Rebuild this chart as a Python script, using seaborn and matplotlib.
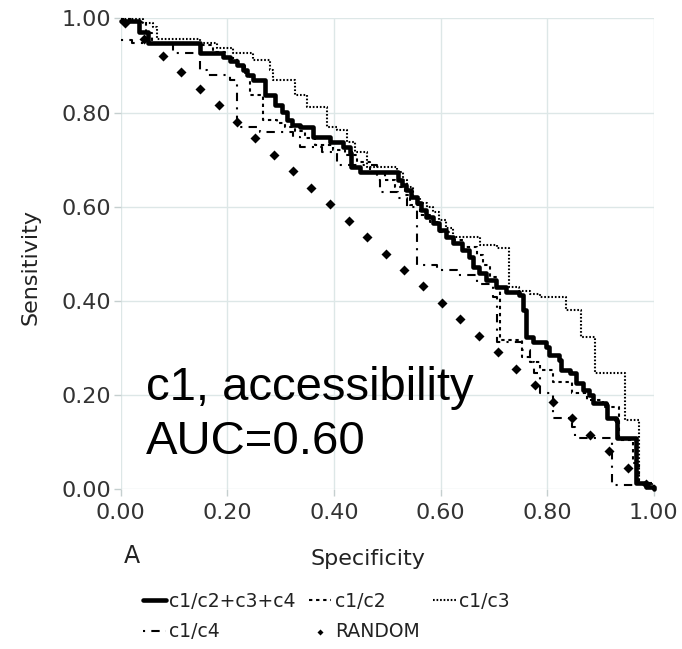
import matplotlib
matplotlib.use("Agg")
import matplotlib.pyplot as plt
import seaborn as sns

# ROC-style step curves (specificity, sensitivity)
spec_all = [0.000, 0.035, 0.051, 0.149, 0.192, 0.205, 0.218, 0.229, 0.237, 0.248,
            0.271, 0.289, 0.302, 0.312, 0.321, 0.336, 0.360, 0.392, 0.417, 0.430,
            0.433, 0.449, 0.520, 0.527, 0.536, 0.545, 0.555, 0.564, 0.573, 0.586,
            0.598, 0.611, 0.623, 0.641, 0.654, 0.661, 0.673, 0.686, 0.704, 0.723,
            0.748, 0.754, 0.761, 0.773, 0.798, 0.804, 0.823, 0.826, 0.842, 0.854,
            0.867, 0.879, 0.885, 0.911, 0.913, 0.929, 0.930, 0.967, 0.985, 1.000]
sens_all = [0.995, 0.971, 0.947, 0.926, 0.918, 0.910, 0.901, 0.891, 0.880, 0.869,
            0.838, 0.816, 0.801, 0.784, 0.774, 0.770, 0.748, 0.738, 0.727, 0.714,
            0.685, 0.675, 0.657, 0.646, 0.636, 0.621, 0.608, 0.593, 0.579, 0.566,
            0.551, 0.536, 0.523, 0.508, 0.494, 0.472, 0.460, 0.445, 0.430, 0.419,
            0.413, 0.381, 0.324, 0.313, 0.303, 0.286, 0.275, 0.254, 0.247, 0.226,
            0.212, 0.201, 0.184, 0.179, 0.152, 0.148, 0.109, 0.014, 0.005, 0.000]

spec_c2 = [0.000, 0.023, 0.048, 0.059, 0.145, 0.173, 0.196, 0.218, 0.233, 0.243,
           0.267, 0.293, 0.308, 0.327, 0.345, 0.364, 0.398, 0.420, 0.443, 0.467,
           0.495, 0.514, 0.533, 0.542, 0.561, 0.580, 0.598, 0.617, 0.642, 0.668,
           0.679, 0.692, 0.705, 0.711, 0.752, 0.767, 0.786, 0.810, 0.847, 0.874,
           0.904, 0.935, 0.960, 0.973, 1.000]
sens_c2 = [0.999, 0.993, 0.969, 0.948, 0.944, 0.929, 0.916, 0.899, 0.884, 0.838,
           0.784, 0.778, 0.770, 0.761, 0.746, 0.731, 0.721, 0.710, 0.695, 0.672,
           0.657, 0.642, 0.625, 0.604, 0.583, 0.568, 0.547, 0.530, 0.515, 0.498,
           0.477, 0.451, 0.430, 0.317, 0.281, 0.271, 0.254, 0.228, 0.205, 0.190,
           0.175, 0.105, 0.056, 0.014, 0.000]

spec_c3 = [0.000, 0.042, 0.061, 0.068, 0.149, 0.181, 0.211, 0.248, 0.280, 0.286,
           0.327, 0.349, 0.387, 0.405, 0.424, 0.439, 0.462, 0.518, 0.529, 0.538,
           0.548, 0.561, 0.574, 0.585, 0.598, 0.611, 0.623, 0.674, 0.705, 0.729,
           0.748, 0.767, 0.786, 0.836, 0.864, 0.889, 0.945, 0.973, 0.997]
sens_c3 = [0.999, 0.990, 0.982, 0.957, 0.948, 0.937, 0.927, 0.912, 0.891, 0.869,
           0.838, 0.812, 0.770, 0.764, 0.738, 0.717, 0.685, 0.674, 0.657, 0.642,
           0.621, 0.608, 0.600, 0.589, 0.572, 0.555, 0.536, 0.519, 0.513, 0.430,
           0.421, 0.415, 0.409, 0.381, 0.324, 0.247, 0.148, 0.014, 0.000]

spec_c4 = [0.000, 0.022, 0.098, 0.149, 0.162, 0.205, 0.218, 0.261, 0.323, 0.336,
           0.377, 0.405, 0.480, 0.486, 0.520, 0.538, 0.555, 0.593, 0.630, 0.668,
           0.698, 0.705, 0.752, 0.767, 0.776, 0.786, 0.810, 0.847, 0.853, 0.922,
           0.963]
sens_c4 = [0.954, 0.948, 0.927, 0.891, 0.880, 0.869, 0.770, 0.759, 0.748, 0.727,
           0.717, 0.689, 0.657, 0.632, 0.619, 0.600, 0.477, 0.466, 0.455, 0.436,
           0.409, 0.313, 0.296, 0.271, 0.247, 0.205, 0.152, 0.133, 0.109, 0.010,
           0.000]

spec_rand = [0.009, 0.044, 0.079, 0.114, 0.149, 0.184, 0.219, 0.253, 0.288, 0.323,
             0.358, 0.393, 0.428, 0.463, 0.498, 0.532, 0.567, 0.602, 0.637, 0.672,
             0.707, 0.742, 0.777, 0.811, 0.846, 0.881, 0.916, 0.951, 0.986]
sens_rand = [0.991, 0.956, 0.921, 0.886, 0.851, 0.816, 0.781, 0.746, 0.711, 0.676,
             0.641, 0.606, 0.571, 0.536, 0.501, 0.466, 0.431, 0.396, 0.361, 0.326,
             0.291, 0.256, 0.221, 0.186, 0.151, 0.116, 0.081, 0.046, 0.012]

ticks = [0.0, 0.2, 0.4, 0.6, 0.8, 1.0]
tick_labels = ["0.00", "0.20", "0.40", "0.60", "0.80", "1.00"]

sns.set_theme(style="whitegrid")
plt.rcParams["font.family"] = ["DejaVu Sans"]

fig = plt.figure(figsize=(6.82, 6.49), dpi=100)
ax = fig.add_axes([0.1767, 0.2458, 0.782, 0.7257])

line_kw = dict(color="black", sort=False, estimator=None,
               drawstyle="steps-post", clip_on=False)
sns.lineplot(x=spec_c4, y=sens_c4, ax=ax, lw=1.5,
             linestyle=(0, (1, 3, 4, 3)), label="c1/c4", **line_kw)
sns.lineplot(x=spec_c2, y=sens_c2, ax=ax, lw=1.5,
             linestyle=(0, (1.6, 1.8)), label="c1/c2", **line_kw)
sns.lineplot(x=spec_c3, y=sens_c3, ax=ax, lw=1.5,
             linestyle=(0, (0.8, 0.9)), label="c1/c3", **line_kw)
sns.lineplot(x=spec_all, y=sens_all, ax=ax, lw=3.3,
             linestyle="-", label="c1/c2+c3+c4", **line_kw)
sns.scatterplot(x=spec_rand, y=sens_rand, ax=ax, marker="D", s=26,
                color="black", linewidth=0, label="RANDOM", clip_on=False)

ax.set_xlim(0, 1)
ax.set_ylim(0, 1)
ax.set_xticks(ticks)
ax.set_xticklabels(tick_labels)
ax.set_yticks(ticks)
ax.set_yticklabels(tick_labels)
ax.set_xlabel("")
ax.set_ylabel("")
for s in ax.spines.values():
    s.set_visible(False)
ax.grid(True, color="#dde7e7", lw=1.0)
ax.tick_params(axis="both", length=5, width=1, color="#c5cfcf",
               labelsize=16, labelcolor="#333333", left=True, bottom=True)
ax.tick_params(axis="y", pad=2)
ax.tick_params(axis="x", pad=5)

ax.text(0.048, 0.19, "c1, accessibility", fontsize=34, color="black",
        family="Liberation Sans", va="baseline", ha="left")
ax.text(0.048, 0.075, "AUC=0.60", fontsize=34, color="black",
        family="Liberation Sans", va="baseline", ha="left")

fig.text(0.044, 0.5886, "Sensitivity", rotation=90, fontsize=16,
         color="#222222", ha="center", va="center")
fig.text(0.539, 0.1294, "Specificity", fontsize=16, color="#222222",
         ha="center", va="baseline")
fig.text(0.1935, 0.1325, "A", fontsize=17, color="#222222",
         ha="center", va="baseline")

if ax.get_legend() is not None:
    ax.get_legend().remove()
handles, labels = ax.get_legend_handles_labels()
lookup = dict(zip(labels, handles))
order = ["c1/c2+c3+c4", "c1/c4", "c1/c2", "RANDOM", "c1/c3"]
fig.legend([lookup[k] for k in order], order, loc="upper left",
           bbox_to_anchor=(0.2097, 0.0878), ncol=3, frameon=False,
           fontsize=13.5, handlelength=1.2, handletextpad=0.2,
           columnspacing=0.7, labelspacing=0.6, borderpad=0,
           borderaxespad=0, markerscale=0.6, labelcolor="#222222")

fig.savefig("out.png", dpi=100)
